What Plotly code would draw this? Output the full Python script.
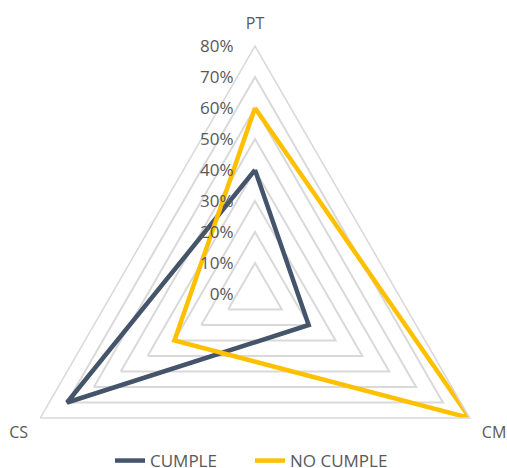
import plotly.graph_objects as go

categories = ["PT", "CM", "CS"]
cumple = [0.40, 0.20, 0.70]
no_cumple = [0.60, 0.80, 0.30]
series_names = ["CUMPLE", "NO CUMPLE"]
radial_ticks = [0.0, 0.1, 0.2, 0.3, 0.4, 0.5, 0.6, 0.7, 0.8]

W, H = 507, 560
cx, cy, R = 255, 294, 248

fig = go.Figure()
fig.add_trace(go.Scatterpolar(
    r=cumple + cumple[:1], theta=categories + categories[:1],
    mode="lines", name=series_names[0],
    line=dict(color="#44546A", width=4.5)))
fig.add_trace(go.Scatterpolar(
    r=no_cumple + no_cumple[:1], theta=categories + categories[:1],
    mode="lines", name=series_names[1],
    line=dict(color="#FFC000", width=4.5)))

fig.update_layout(
    width=W, height=H,
    margin=dict(l=0, r=0, t=0, b=0),
    paper_bgcolor="white", plot_bgcolor="white",
    font=dict(family="Open Sans", color="#595959"),
    polar=dict(
        domain=dict(x=[(cx - R) / W, (cx + R) / W],
                    y=[1 - (cy + R) / H, 1 - (cy - R) / H]),
        gridshape="linear",
        bgcolor="white",
        angularaxis=dict(
            direction="clockwise", rotation=90,
            showgrid=False, showline=True, linecolor="#D9D9D9", linewidth=1.5,
            ticks="outside", ticklen=10, tickcolor="rgba(0,0,0,0)",
            tickfont=dict(size=16, color="#595959"),
        ),
        radialaxis=dict(
            range=[0, 0.8], tickvals=radial_ticks, tickformat=".0%",
            angle=90, tickangle=90, side="counterclockwise",
            showline=False, gridcolor="#D9D9D9", gridwidth=1.5,
            ticks="outside", ticklen=15, tickcolor="rgba(0,0,0,0)",
            tickfont=dict(size=17, color="#595959"),
        ),
    ),
    legend=dict(orientation="h", x=110 / W, xanchor="left",
                y=1 - 461 / H, yanchor="middle", entrywidth=95,
                font=dict(size=17, color="#595959"), itemwidth=30),
    showlegend=True,
)

fig.add_annotation(text="p", xref="paper", yref="paper", x=269 / W, y=1 - 2 / H,
                   xanchor="center", yanchor="bottom", showarrow=False,
                   font=dict(family="Liberation Serif", size=22, color="black"))

fig.write_html("out.html", post_script="document.documentElement.style.overflow='hidden';document.body.style.overflow='hidden';document.body.style.margin='0';")
